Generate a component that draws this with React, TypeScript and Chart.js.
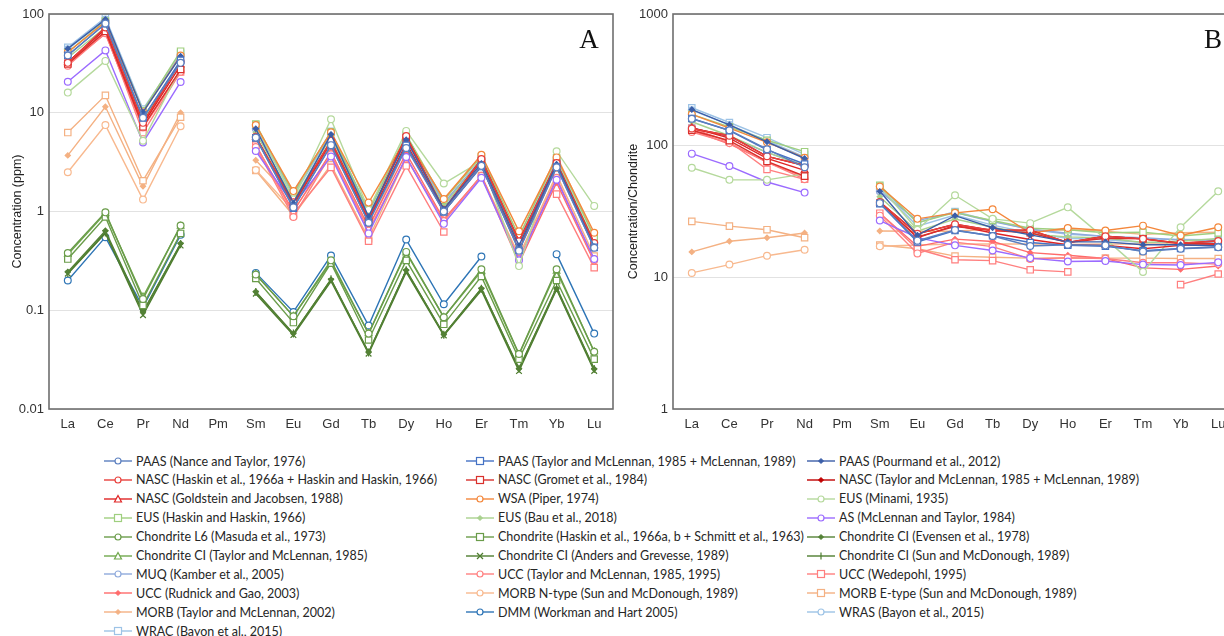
import React, { useEffect, useRef } from "react";
import { Chart, registerables } from "chart.js";

Chart.register(...registerables);

// ---------- Categories & ticks ----------
const elements = ["La", "Ce", "Pr", "Nd", "Pm", "Sm", "Eu", "Gd", "Tb", "Dy", "Ho", "Er", "Tm", "Yb", "Lu"];
const ticksA = [0.01, 0.1, 1, 10, 100];
const ticksB = [1, 10, 100, 1000];

// ---------- Panel A: concentration (ppm) ----------
const paasNT76A = [38, 80, 8.9, 32, null, 5.6, 1.1, 4.7, 0.77, 4.4, 1.0, 2.9, 0.4, 2.8, 0.43];
const paasTM85A = [38.2, 79.6, 8.83, 33.9, null, 5.55, 1.08, 4.66, 0.774, 4.68, 0.991, 2.85, 0.405, 2.82, 0.433];
const paasPourA = [44.56, 88.25, 10.15, 37.32, null, 6.884, 1.215, 6.043, 0.8914, 5.325, 1.053, 3.075, 0.451, 3.012, 0.4386];
const nascHaskinA = [32, 73, 7.9, 33, null, 5.7, 1.24, 5.2, 0.85, 5.8, 1.04, 3.4, 0.5, 3.1, 0.48];
const nascGrometA = [31.1, 66.7, 7.2, 27.4, null, 5.59, 1.18, 5.0, 0.85, 5.54, 1.04, 3.28, 0.5, 3.06, 0.456];
const nascTMA = [32, 73, 7.9, 33, null, 5.7, 1.24, 5.2, 0.85, 5.8, 1.04, 3.4, 0.5, 3.1, 0.48];
const nascGoldA = [32.5, 70, 7.6, 30.4, null, 5.64, 1.16, 5.1, 0.81, 4.93, 1.0, 2.9, 0.42, 2.97, 0.45];
const wsaA = [41, 83, 10.1, 38, null, 7.5, 1.61, 6.35, 1.23, 5.5, 1.34, 3.75, 0.63, 3.53, 0.61];
const eusMinamiA = [16, 33.5, 5.2, 28.4, null, 7.5, 1.33, 8.6, 1.04, 6.55, 1.92, 3.24, 0.28, 4.08, 1.14];
const eusHaskinA = [41, 85, 10.5, 42, null, 7.7, 1.5, 6.4, 1.0, 6.0, 1.3, 3.6, 0.56, 3.5, 0.55];
const eusBauA = [36, 73, 8.5, 33, null, 6.3, 1.3, 5.7, 0.9, 5.4, 1.15, 3.3, 0.47, 3.2, 0.5];
const asA = [20.6, 42.8, 5.0, 20.5, null, 4.1, 1.16, 3.6, 0.6, 3.56, 0.75, 2.2, 0.32, 2.1, 0.33];
const chonL6A = [0.38, 0.98, 0.13, 0.72, null, 0.23, 0.087, 0.32, 0.058, 0.39, 0.085, 0.26, 0.036, 0.26, 0.038];
const chonHaskinA = [0.33, 0.88, 0.112, 0.6, null, 0.21, 0.075, 0.3, 0.05, 0.32, 0.072, 0.22, 0.032, 0.2, 0.032];
const ciEvensenA = [0.2446, 0.6379, 0.09637, 0.4738, null, 0.154, 0.05802, 0.2043, 0.03745, 0.2541, 0.0567, 0.166, 0.02561, 0.1651, 0.02539];
const ciTM85A = [0.367, 0.957, 0.137, 0.711, null, 0.231, 0.087, 0.306, 0.058, 0.381, 0.0851, 0.249, 0.0356, 0.248, 0.0381];
const ciAndersA = [0.2347, 0.6032, 0.0891, 0.4524, null, 0.1471, 0.056, 0.1966, 0.0363, 0.2427, 0.0556, 0.1589, 0.0242, 0.1625, 0.0243];
const ciSunA = [0.237, 0.612, 0.095, 0.467, null, 0.153, 0.058, 0.2055, 0.0374, 0.254, 0.0566, 0.1655, 0.0255, 0.17, 0.0254];
const muqA = [32.5, 71.1, 8.46, 32.9, null, 6.88, 1.57, 6.36, 0.99, 5.89, 1.22, 3.37, 0.51, 3.26, 0.485];
const uccTMA = [30, 64, 7.1, 26, null, 4.5, 0.88, 3.8, 0.64, 3.5, 0.8, 2.3, 0.33, 2.2, 0.32];
const uccWedA = [32.3, 65.7, 6.3, 25.9, null, 4.7, 0.95, 2.8, 0.5, 2.9, 0.62, null, null, 1.5, 0.27];
const uccRGA = [31, 63, 7.1, 27, null, 4.7, 1.0, 4.0, 0.7, 3.9, 0.83, 2.3, 0.3, 1.96, 0.31];
const morbNA = [2.5, 7.5, 1.32, 7.3, null, 2.63, 1.02, 3.68, 0.67, 4.55, 1.01, 2.97, 0.456, 3.05, 0.455];
const morbEA = [6.3, 15, 2.05, 9, null, 2.6, 0.91, 2.97, 0.53, 3.55, 0.79, 2.31, 0.356, 2.37, 0.354];
const morbTMA = [3.7, 11.5, 1.8, 10, null, 3.3, 1.3, 4.6, 0.87, 5.7, 1.3, 3.7, 0.54, 3.7, 0.56];
const dmmA = [0.2, 0.55, 0.107, 0.58, null, 0.239, 0.096, 0.358, 0.07, 0.52, 0.115, 0.35, null, 0.37, 0.058];
const wrasA = [44, 88, 10.4, 38.5, null, 7.2, 1.42, 6.1, 0.93, 5.5, 1.12, 3.2, 0.47, 3.1, 0.47];
const wracA = [46, 92, 10.9, 40, null, 7.5, 1.5, 6.5, 1.0, 5.9, 1.2, 3.4, 0.5, 3.3, 0.49];

// ---------- Panel B: chondrite-normalised ----------
const paasNT76B = [160, 131, 94, 68.5, null, 36.6, 19.0, 22.9, 20.6, 17.3, 17.7, 17.5, 15.7, 16.5, 16.9];
const paasTM85B = [161, 130, 93, 72.6, null, 36.3, 18.6, 22.7, 20.7, 18.4, 17.5, 17.2, 15.9, 16.6, 17.0];
const paasPourB = [188, 144, 107, 79.9, null, 45, 20.9, 29.4, 23.8, 21.0, 18.6, 18.6, 17.7, 17.7, 17.3];
const nascHaskinB = [135, 119, 83, 70.7, null, 37.3, 21.4, 25.3, 22.7, 22.8, 18.4, 20.5, 19.6, 18.2, 18.9];
const nascGrometB = [131, 109, 76, 58.7, null, 36.5, 20.3, 24.3, 22.7, 21.8, 18.4, 19.8, 19.6, 18.0, 18.0];
const nascTMB = [135, 119, 83, 70.7, null, 37.3, 21.4, 25.3, 22.7, 22.8, 18.4, 20.5, 19.6, 18.2, 18.9];
const nascGoldB = [137, 114, 80, 65, null, 36.9, 20, 24.8, 21.7, 19.4, 17.7, 17.5, 16.5, 17.5, 17.7];
const wsaB = [173, 136, 106, 81, null, 49, 27.8, 30.9, 32.9, 21.7, 23.7, 22.7, 24.7, 20.8, 24.0];
const eusMinamiB = [68, 55, 55, 61, null, 49, 23, 42, 27.8, 25.8, 34, 19.6, 11, 24, 45];
const eusHaskinB = [173, 139, 110, 90, null, 50, 26, 31, 27, 23.6, 23, 21.8, 22, 20.6, 21.7];
const eusBauB = [152, 119, 89, 70.7, null, 41, 22.4, 27.7, 24, 21.3, 20.3, 19.9, 18.4, 18.8, 19.7];
const asB = [87, 70, 53, 44, null, 27, 20, 17.5, 16, 14, 13.2, 13.3, 12.5, 12.4, 13];
const muqB = [137, 116, 89, 70.4, null, 45, 27, 31, 26.5, 23.2, 21.6, 20.4, 20, 19.2, 19.1];
const uccTMB = [127, 105, 75, 55.7, null, 29.4, 15.2, 18.5, 17.1, 13.8, 14.1, 13.9, 12.9, 12.9, 12.6];
const uccWedB = [136, 107, 66, 55.5, null, 30.7, 16.4, 13.6, 13.4, 11.4, 11, null, null, 8.8, 10.6];
const uccRGB = [131, 103, 75, 57.8, null, 30.7, 17.2, 19.5, 18.7, 15.4, 14.7, 13.9, 11.8, 11.5, 12.2];
const morbNB = [10.8, 12.5, 14.6, 16.2, null, 17.2, 17.6, 17.9, 17.9, 17.9, 17.8, 17.9, 17.9, 17.9, 17.9];
const morbEB = [26.6, 24.5, 23, 20, null, 17.6, 16.5, 14.5, 14.2, 14.0, 14.0, 14.0, 14.0, 13.9, 13.9];
const morbTMB = [15.6, 18.8, 20, 21.7, null, 22.5, 22.4, 22.4, 23.3, 22.4, 23, 22.4, 21.2, 21.8, 22];
const wrasB = [186, 144, 109, 82, null, 47, 24.5, 29.7, 24.9, 21.7, 19.8, 19.3, 18.4, 18.2, 18.5];
const wracB = [194, 150, 115, 86, null, 49, 25.9, 31.6, 26.7, 23.2, 21.2, 20.5, 19.6, 19.4, 19.3];

// ---------- Series labels ----------
const seriesLabels = [
  "PAAS (Nance and Taylor, 1976)",
  "PAAS (Taylor and McLennan, 1985 + McLennan, 1989)",
  "PAAS (Pourmand et al., 2012)",
  "NASC (Haskin et al., 1966a + Haskin and Haskin, 1966)",
  "NASC (Gromet et al., 1984)",
  "NASC (Taylor and McLennan, 1985 + McLennan, 1989)",
  "NASC (Goldstein and Jacobsen, 1988)",
  "WSA (Piper, 1974)",
  "EUS (Minami, 1935)",
  "EUS (Haskin and Haskin, 1966)",
  "EUS (Bau et al., 2018)",
  "AS (McLennan and Taylor, 1984)",
  "Chondrite L6 (Masuda et al., 1973)",
  "Chondrite (Haskin et al., 1966a, b + Schmitt et al., 1963)",
  "Chondrite CI (Evensen et al., 1978)",
  "Chondrite CI (Taylor and McLennan, 1985)",
  "Chondrite CI (Anders and Grevesse, 1989)",
  "Chondrite CI (Sun and McDonough, 1989)",
  "MUQ (Kamber et al., 2005)",
  "UCC (Taylor and McLennan, 1985, 1995)",
  "UCC (Wedepohl, 1995)",
  "UCC (Rudnick and Gao, 2003)",
  "MORB N-type (Sun and McDonough, 1989)",
  "MORB E-type (Sun and McDonough, 1989)",
  "MORB (Taylor and McLennan, 2002)",
  "DMM (Workman and Hart 2005)",
  "WRAS (Bayon et al., 2015)",
  "WRAC (Bayon et al., 2015)",
];

const seriesA = [paasNT76A, paasTM85A, paasPourA, nascHaskinA, nascGrometA, nascTMA, nascGoldA, wsaA, eusMinamiA, eusHaskinA, eusBauA, asA, chonL6A, chonHaskinA, ciEvensenA, ciTM85A, ciAndersA, ciSunA, muqA, uccTMA, uccWedA, uccRGA, morbNA, morbEA, morbTMA, dmmA, wrasA, wracA];
const seriesB = [paasNT76B, paasTM85B, paasPourB, nascHaskinB, nascGrometB, nascTMB, nascGoldB, wsaB, eusMinamiB, eusHaskinB, eusBauB, asB, null, null, null, null, null, null, muqB, uccTMB, uccWedB, uccRGB, morbNB, morbEB, morbTMB, null, wrasB, wracB];

// ---------- Styles ----------
const seriesColors = [
  "#5b7fbf", "#4472c4", "#3b5ea8",
  "#e8403c", "#d9302c", "#c00000", "#e02424",
  "#f4873b", "#b5d99c", "#9fcf7f", "#a9d18e", "#9b6bff",
  "#6a9c4a", "#6a9c4a", "#538135", "#70a84c", "#4e7d2f", "#4e7d2f",
  "#8faadc", "#ff8080", "#ff7f7f", "#ff6b6b",
  "#f8b98f", "#f4b183", "#f4b183", "#2e75b6", "#9dc3e6", "#9dc3e6",
];
const seriesMarkers = [
  "circle", "rect", "dot",
  "circle", "rect", "dot", "triangle",
  "circle", "circle", "rect", "dot", "circle",
  "circle", "rect", "dot", "triangle", "cross", "vline",
  "circle", "circle", "rect", "dot",
  "circle", "rect", "dot", "circle", "circle", "rect",
];

function pointOpts(marker: string, color: string) {
  switch (marker) {
    case "rect":
      return { pointStyle: "rect", pointRadius: 4.5, pointBackgroundColor: "#ffffff", pointRotation: 0 };
    case "dot":
      return { pointStyle: "rectRot", pointRadius: 2.6, pointBackgroundColor: color, pointRotation: 0 };
    case "triangle":
      return { pointStyle: "triangle", pointRadius: 3.8, pointBackgroundColor: "#ffffff", pointRotation: 0 };
    case "cross":
      return { pointStyle: "crossRot", pointRadius: 4, pointBackgroundColor: color, pointRotation: 0 };
    case "vline":
      return { pointStyle: "line", pointRadius: 4, pointBackgroundColor: color, pointRotation: 90 };
    default:
      return { pointStyle: "circle", pointRadius: 3.4, pointBackgroundColor: "#ffffff", pointRotation: 0 };
  }
}

function makeDatasets(which: "A" | "B") {
  const out: any[] = [];
  seriesLabels.forEach((label, i) => {
    const data = which === "A" ? seriesA[i] : seriesB[i];
    if (!data) return;
    const color = seriesColors[i];
    out.push({
      label,
      data,
      borderColor: color,
      borderWidth: 1.4,
      pointBorderColor: color,
      pointBorderWidth: 1.2,
      spanGaps: false,
      tension: 0,
      fill: false,
      ...pointOpts(seriesMarkers[i], color),
    });
  });
  return out;
}

const frame = (letter: string) => ({
  id: "frame" + letter,
  afterDraw(chart: any) {
    const { ctx, chartArea } = chart;
    ctx.save();
    ctx.strokeStyle = "#6e6e6e";
    ctx.lineWidth = 1.6;
    ctx.strokeRect(chartArea.left, chartArea.top, chartArea.right - chartArea.left, chartArea.bottom - chartArea.top);
    ctx.fillStyle = "#111111";
    ctx.font = '27px "Liberation Serif", "DejaVu Serif", serif';
    ctx.textAlign = "center";
    ctx.textBaseline = "middle";
    ctx.fillText(letter, chartArea.left + 540, chartArea.top + 27);
    ctx.restore();
  },
});

function buildChart(canvas: HTMLCanvasElement, which: "A" | "B") {
  const isA = which === "A";
  const ticks = isA ? ticksA : ticksB;
  return new Chart(canvas, {
    type: "line",
    data: { labels: elements, datasets: makeDatasets(which) },
    plugins: [frame(which)],
    options: {
      responsive: false,
      maintainAspectRatio: false,
      animation: false,
      layout: { padding: { top: 14, right: 7, bottom: 0, left: 0 } },
      plugins: { legend: { display: false }, tooltip: { enabled: false }, title: { display: false } },
      scales: {
        x: {
          type: "category",
          offset: true,
          grid: { display: false, drawTicks: false },
          border: { display: false },
          ticks: {
            color: "#333333",
            font: { family: '"Liberation Sans", Arial, sans-serif', size: 13 },
            padding: 8,
            autoSkip: false,
            maxRotation: 0,
          },
          afterFit: (s: any) => { s.height = 31; },
        },
        y: {
          type: "logarithmic",
          min: ticks[0],
          max: ticks[ticks.length - 1],
          afterBuildTicks: (s: any) => { s.ticks = ticks.map((v) => ({ value: v })); },
          grid: { color: "#e2e2e2", lineWidth: 1, drawTicks: false },
          border: { display: false },
          ticks: {
            color: "#333333",
            font: { family: '"Liberation Sans", Arial, sans-serif', size: 13 },
            padding: 5,
            callback: (v: any) => String(Number(v)),
          },
          title: {
            display: true,
            text: isA ? "Concentration (ppm)" : "Concentration/Chondrite",
            color: "#222222",
            font: { family: '"Liberation Sans", Arial, sans-serif', size: 12.5 },
            padding: { top: isA ? 10 : 9, bottom: 0 },
          },
          afterFit: (s: any) => { s.width = isA ? 49 : 56; },
        },
      },
    } as any,
  });
}

function LegendMarker({ marker, color }: { marker: string; color: string }) {
  let shape: any = null;
  if (marker === "circle") shape = <circle cx={14} cy={5} r={3} fill="#fff" stroke={color} strokeWidth={1.2} />;
  else if (marker === "rect") shape = <rect x={10.5} y={1.5} width={7} height={7} fill="#fff" stroke={color} strokeWidth={1.2} />;
  else if (marker === "dot") shape = <polygon points="14,2.5 16.5,5 14,7.5 11.5,5" fill={color} stroke={color} strokeWidth={1} />;
  else if (marker === "triangle") shape = <polygon points="14,1.5 17.5,8 10.5,8" fill="#fff" stroke={color} strokeWidth={1.2} />;
  else if (marker === "cross")
    shape = (
      <g stroke={color} strokeWidth={1.2}>
        <line x1={11} y1={2} x2={17} y2={8} />
        <line x1={17} y1={2} x2={11} y2={8} />
      </g>
    );
  else if (marker === "vline") shape = <line x1={14} y1={1.5} x2={14} y2={8.5} stroke={color} strokeWidth={1.2} />;
  return (
    <svg width={28} height={10} style={{ display: "block", flex: "0 0 auto" }}>
      <line x1={0} y1={5} x2={28} y2={5} stroke={color} strokeWidth={1.4} />
      {shape}
    </svg>
  );
}

export default function App() {
  const refA = useRef<HTMLCanvasElement>(null);
  const refB = useRef<HTMLCanvasElement>(null);

  useEffect(() => {
    const a = buildChart(refA.current!, "A");
    const b = buildChart(refB.current!, "B");
    return () => {
      a.destroy();
      b.destroy();
    };
  }, []);

  const colX = [104, 466, 807];
  return (
    <div style={{ position: "absolute", left: 0, top: 0, width: 1224, height: 636, overflow: "hidden", background: "#fff" }}>
      <canvas ref={refA} width={620} height={440} style={{ position: "absolute", left: 0, top: 0, width: 620, height: 440 }} />
      <canvas ref={refB} width={627} height={440} style={{ position: "absolute", left: 617, top: 0, width: 627, height: 440 }} />
      {seriesLabels.map((label, i) => {
        const col = i % 3;
        const row = Math.floor(i / 3);
        return (
          <div
            key={label}
            style={{
              position: "absolute",
              left: colX[col],
              top: 452 + row * 18.9,
              height: 18,
              display: "flex",
              alignItems: "center",
              whiteSpace: "nowrap",
              fontFamily: 'Lato, "Open Sans", sans-serif',
              fontSize: 12.5,
              color: "#262626",
            }}
          >
            <LegendMarker marker={seriesMarkers[i]} color={seriesColors[i]} />
            <span style={{ marginLeft: 4 }}>{label}</span>
          </div>
        );
      })}
    </div>
  );
}
